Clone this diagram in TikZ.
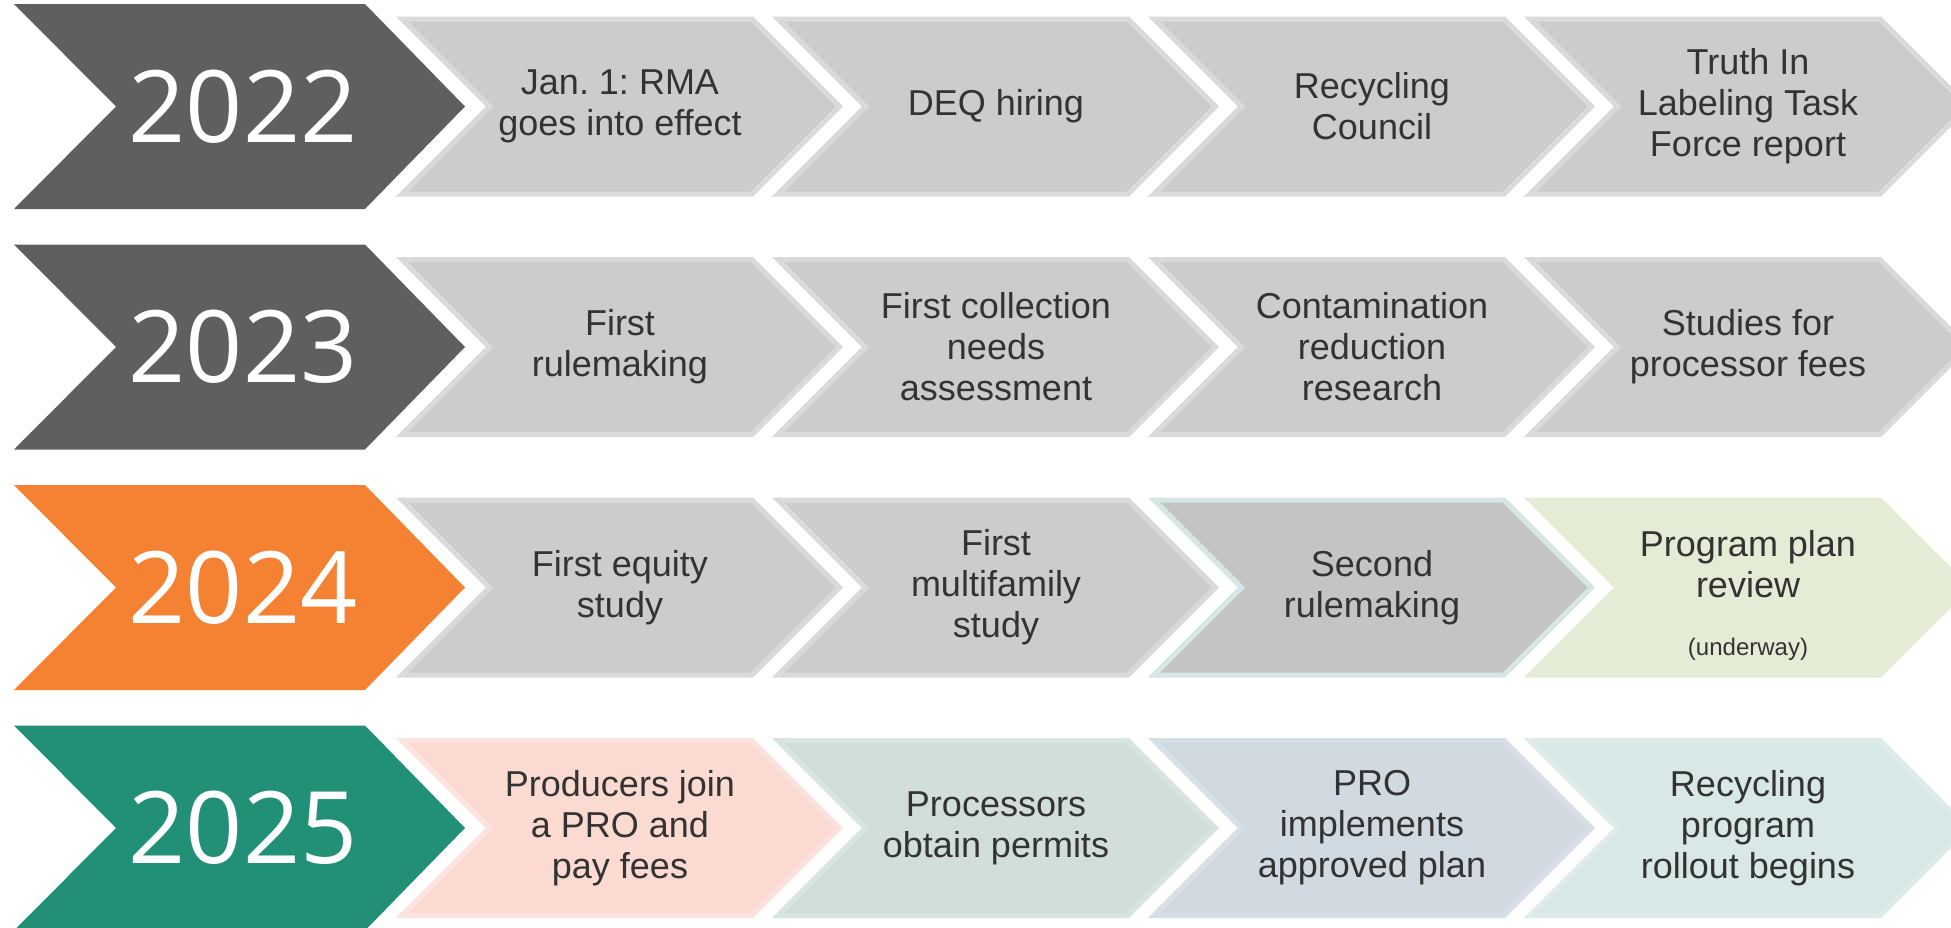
\documentclass[tikz,border=0pt]{standalone}
\usepackage{fontspec}
\setmainfont{Liberation Sans}
\newfontfamily\yearfont{Open Sans}
\definecolor{yeargray}{HTML}{5F5F5F}
\definecolor{yearorange}{HTML}{F58233}
\definecolor{yearteal}{HTML}{228F77}
\definecolor{stepgray}{HTML}{CCCCCC}
\definecolor{stepline}{HTML}{DADADA}
\definecolor{stepdark}{HTML}{C4C4C4}
\definecolor{stepcyan}{HTML}{D5E6E4}
\definecolor{stepgreen}{HTML}{E5ECD6}
\definecolor{steppink}{HTML}{FBDAD2}
\definecolor{steppinkline}{HTML}{FCE3DD}
\definecolor{stepsage}{HTML}{D1DEDB}
\definecolor{stepsageline}{HTML}{D8E4E1}
\definecolor{stepblue}{HTML}{D1D9E1}
\definecolor{stepblueline}{HTML}{D7DEE5}
\definecolor{stepaqua}{HTML}{D7E8E6}
\definecolor{stepaqualine}{HTML}{DDEBE9}
\definecolor{textdark}{HTML}{333333}
\tikzset{
  yeartext/.style={text=white, font=\yearfont\fontsize{100}{104}\selectfont, inner sep=0pt},
  stepbox/.style={line width=5pt, line join=miter},
  steptext/.style={text=textdark, font=\fontsize{36}{41}\selectfont\frenchspacing, align=center, inner sep=0pt}
}
\begin{document}
\begin{tikzpicture}[x=1pt,y=-1pt]
\useasboundingbox (0,0) rectangle (1951,927);
\clip (0,0) rectangle (1951,927);
% year chevrons
\foreach \row/\fc/\yr in {0/yeargray/2022, 1/yeargray/2023, 2/yearorange/2024, 3/yearteal/2025} {
  \fill[\fc, shift={(0,106.5+240.5*\row)}] (14,-102.5) -- (365,-102.5) -- (465,0) -- (365,102.5) -- (14,102.5) -- (116,0) -- cycle;
  \node[yeartext] (year-\row) at (243,106.5+240.5*\row) {\yr};
}
% step chevrons
\foreach \row/\col/\fc/\dc/\txt in {
  0/0/stepgray/stepline/{Jan. 1: RMA\\goes into effect},
  0/1/stepgray/stepline/{DEQ hiring},
  0/2/stepgray/stepline/{Recycling\\Council},
  0/3/stepgray/stepline/{Truth In\\Labeling Task\\Force report},
  1/0/stepgray/stepline/{First\\rulemaking},
  1/1/stepgray/stepline/{First collection\\needs\\assessment},
  1/2/stepgray/stepline/{Contamination\\reduction\\research},
  1/3/stepgray/stepline/{Studies for\\processor fees},
  2/0/stepgray/stepline/{First equity\\study},
  2/1/stepgray/stepline/{First\\multifamily\\study},
  2/2/stepdark/stepcyan/{Second\\rulemaking},
  2/3/stepgreen/stepgreen/{\rule{0pt}{42pt}Program plan\\review\\[17pt]{\fontsize{24}{28}\selectfont(underway)}},
  3/0/steppink/steppinkline/{Producers join\\a PRO and\\pay fees},
  3/1/stepsage/stepsageline/{Processors\\obtain permits},
  3/2/stepblue/stepblueline/{PRO\\implements\\approved plan},
  3/3/stepaqua/stepaqualine/{Recycling\\program\\rollout begins}} {
  \draw[stepbox, fill=\fc, draw=\dc, shift={(396+376*\col,106.5+240.5*\row)}]
    (6,-87.5) -- (356,-87.5) -- (443.5,0) -- (356,87.5) -- (6,87.5) -- (93.5,0) -- cycle;
  \node[steptext] (step-\row-\col) at (620+376*\col,106.5+240.5*\row) {\txt};
}
\end{tikzpicture}
\end{document}
